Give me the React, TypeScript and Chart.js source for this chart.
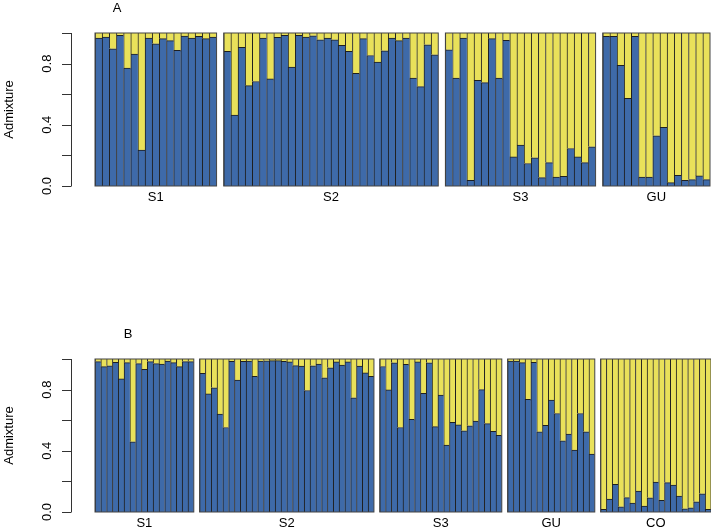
import React, { useEffect, useRef } from 'react';
import { Chart, registerables } from 'chart.js';

Chart.register(...registerables);

// ---------- data ----------
const Y_TITLE = 'Admixture';
const Y_TICKS = [0, 0.2, 0.4, 0.6, 0.8, 1.0];
const Y_TICK_LABELS = ['0.0', '', '0.4', '', '0.8', ''];

// Panel A (cluster 1 = blue proportion; cluster 2 = remainder)
const A_LETTER = 'A';
const A_GROUPS = ['S1', 'S2', 'S3', 'GU'];
const A_S1 = [0.967, 0.974, 0.897, 0.985, 0.77, 0.862, 0.234, 0.967, 0.93, 0.963, 0.95, 0.886, 0.98, 0.967, 0.978, 0.963, 0.974];
const A_S2 = [0.88, 0.464, 0.906, 0.656, 0.683, 0.967, 0.70, 0.972, 0.985, 0.777, 0.985, 0.974, 0.982, 0.956, 0.967, 0.956, 0.919, 0.88, 0.737, 0.963, 0.853, 0.81, 0.884, 0.967, 0.95, 0.967, 0.705, 0.65, 0.923, 0.858];
const A_S3 = [0.89, 0.705, 0.967, 0.037, 0.69, 0.676, 0.963, 0.705, 0.952, 0.19, 0.267, 0.147, 0.184, 0.055, 0.153, 0.059, 0.063, 0.245, 0.19, 0.153, 0.256];
const A_GU = [0.978, 0.978, 0.788, 0.573, 0.978, 0.059, 0.059, 0.328, 0.383, 0.022, 0.07, 0.037, 0.042, 0.066, 0.042];

// Panel B
const B_LETTER = 'B';
const B_GROUPS = ['S1', 'S2', 'S3', 'GU', 'CO'];
const B_S1 = [0.983, 0.95, 0.956, 0.978, 0.87, 0.976, 0.459, 0.97, 0.932, 0.983, 0.97, 0.967, 0.987, 0.976, 0.95, 0.983, 0.983];
const B_S2 = [0.907, 0.772, 0.812, 0.64, 0.552, 0.984, 0.863, 0.984, 0.986, 0.887, 0.987, 0.988, 0.989, 0.989, 0.985, 0.981, 0.957, 0.953, 0.794, 0.956, 0.966, 0.877, 0.942, 0.981, 0.96, 0.981, 0.746, 0.954, 0.909, 0.887];
const B_S3 = [0.951, 0.798, 0.975, 0.552, 0.965, 0.606, 0.981, 0.776, 0.975, 0.558, 0.765, 0.438, 0.586, 0.569, 0.531, 0.563, 0.595, 0.8, 0.578, 0.527, 0.501];
const B_GU = [0.987, 0.987, 0.976, 0.736, 0.978, 0.524, 0.566, 0.731, 0.644, 0.465, 0.509, 0.404, 0.644, 0.524, 0.378];
const B_CO = [0.017, 0.085, 0.181, 0.034, 0.094, 0.058, 0.136, 0.039, 0.093, 0.195, 0.077, 0.192, 0.176, 0.104, 0.021, 0.028, 0.067, 0.119, 0.018];

// ---------- styles ----------
const BLUE = '#3E6AA9';
const YELLOW = '#E9E15A';
const BAR_BORDER = '#1f1f1f';
const FRAME = '#444444';
const FONT = '13px "Liberation Sans", Arial, Helvetica, sans-serif';

type Span = { name: string; start: number; end: number };

function buildPanel(groups: string[], values: number[][]) {
  const labels: string[] = [];
  const k1: (number | null)[] = [];
  const k2: (number | null)[] = [];
  const spans: Span[] = [];
  values.forEach((vals, gi) => {
    if (gi > 0) {
      labels.push('');
      k1.push(null);
      k2.push(null);
    }
    const start = labels.length;
    vals.forEach((v, i) => {
      labels.push(groups[gi] + '-' + (i + 1));
      k1.push(v);
      k2.push(+(1 - v).toFixed(4));
    });
    spans.push({ name: groups[gi], start, end: labels.length - 1 });
  });
  return { labels, k1, k2, spans };
}

function makeDecor(spans: Span[], letter: string, letterDx: number) {
  return {
    id: 'decor',
    afterDatasetsDraw(chart: any) {
      const { ctx, chartArea } = chart;
      const xs = chart.scales.x;
      const ys = chart.scales.y;
      const unit = xs.getPixelForValue(1) - xs.getPixelForValue(0);
      const top = ys.getPixelForValue(1);
      const bottom = ys.getPixelForValue(0);
      ctx.save();
      // group frames and labels
      ctx.strokeStyle = FRAME;
      ctx.lineWidth = 1;
      ctx.font = FONT;
      ctx.fillStyle = '#000';
      spans.forEach((s) => {
        const l = xs.getPixelForValue(s.start) - unit / 2;
        const r = xs.getPixelForValue(s.end) + unit / 2;
        ctx.strokeRect(l, top, r - l, bottom - top);
        ctx.textAlign = 'center';
        ctx.textBaseline = 'alphabetic';
        ctx.fillText(s.name, (l + r) / 2, bottom + 14.5);
      });
      // y axis (R style, detached)
      const ax = chartArea.left - 24;
      ctx.strokeStyle = '#333';
      ctx.beginPath();
      ctx.moveTo(ax + 0.5, ys.getPixelForValue(Y_TICKS[0]));
      ctx.lineTo(ax + 0.5, ys.getPixelForValue(Y_TICKS[Y_TICKS.length - 1]));
      Y_TICKS.forEach((t) => {
        const py = Math.round(ys.getPixelForValue(t)) + 0.5;
        ctx.moveTo(ax + 0.5, py);
        ctx.lineTo(ax - 9, py);
      });
      ctx.stroke();
      Y_TICKS.forEach((t, i) => {
        const lab = Y_TICK_LABELS[i];
        if (!lab) return;
        ctx.save();
        ctx.translate(ax - 20, ys.getPixelForValue(t));
        ctx.rotate(-Math.PI / 2);
        ctx.textAlign = 'center';
        ctx.textBaseline = 'alphabetic';
        ctx.fillText(lab, 0, 0);
        ctx.restore();
      });
      // axis title
      ctx.save();
      ctx.translate(ax - 58, (top + bottom) / 2);
      ctx.rotate(-Math.PI / 2);
      ctx.textAlign = 'center';
      ctx.textBaseline = 'alphabetic';
      ctx.fillText(Y_TITLE, 0, 0);
      ctx.restore();
      // panel letter
      ctx.textAlign = 'center';
      ctx.textBaseline = 'alphabetic';
      ctx.fillText(letter, chartArea.left + letterDx, top - 21);
      ctx.restore();
    },
  };
}

function makeConfig(groups: string[], values: number[][], letter: string, letterDx: number, padding: any) {
  const p = buildPanel(groups, values);
  return {
    type: 'bar' as const,
    data: {
      labels: p.labels,
      datasets: [
        {
          label: 'K1',
          data: p.k1,
          backgroundColor: BLUE,
          borderColor: BAR_BORDER,
          borderWidth: { left: 1, top: 1, right: 0, bottom: 0 },
          borderSkipped: 'start',
        },
        {
          label: 'K2',
          data: p.k2,
          backgroundColor: YELLOW,
          borderColor: BAR_BORDER,
          borderWidth: { left: 1, top: 0, right: 0, bottom: 0 },
          borderSkipped: 'start',
        },
      ],
    },
    options: {
      responsive: false,
      animation: false as const,
      layout: { padding },
      datasets: { bar: { barPercentage: 1, categoryPercentage: 1 } },
      scales: {
        x: { type: 'category' as const, stacked: true, display: false, offset: true },
        y: { stacked: true, display: false, min: 0, max: 1 },
      },
      plugins: { legend: { display: false }, tooltip: { enabled: false } },
    },
    plugins: [makeDecor(p.spans, letter, letterDx)],
  };
}

export default function App() {
  const refA = useRef<HTMLCanvasElement | null>(null);
  const refB = useRef<HTMLCanvasElement | null>(null);

  useEffect(() => {
    const a = new Chart(
      refA.current as HTMLCanvasElement,
      makeConfig(A_GROUPS, [A_S1, A_S2, A_S3, A_GU], A_LETTER, 22, { left: 95, right: 1, top: 33, bottom: 78 }) as any
    );
    const b = new Chart(
      refB.current as HTMLCanvasElement,
      makeConfig(B_GROUPS, [B_S1, B_S2, B_S3, B_GU, B_CO], B_LETTER, 33, { left: 95, right: 0, top: 95, bottom: 17 }) as any
    );
    return () => {
      a.destroy();
      b.destroy();
    };
  }, []);

  return (
    <div style={{ position: 'fixed', left: 0, top: 0, width: 711, height: 529, background: '#fff' }}>
      <canvas ref={refA} width={711} height={264} style={{ position: 'absolute', left: 0, top: 0, display: 'block' }} />
      <canvas ref={refB} width={711} height={265} style={{ position: 'absolute', left: 0, top: 264, display: 'block' }} />
    </div>
  );
}
